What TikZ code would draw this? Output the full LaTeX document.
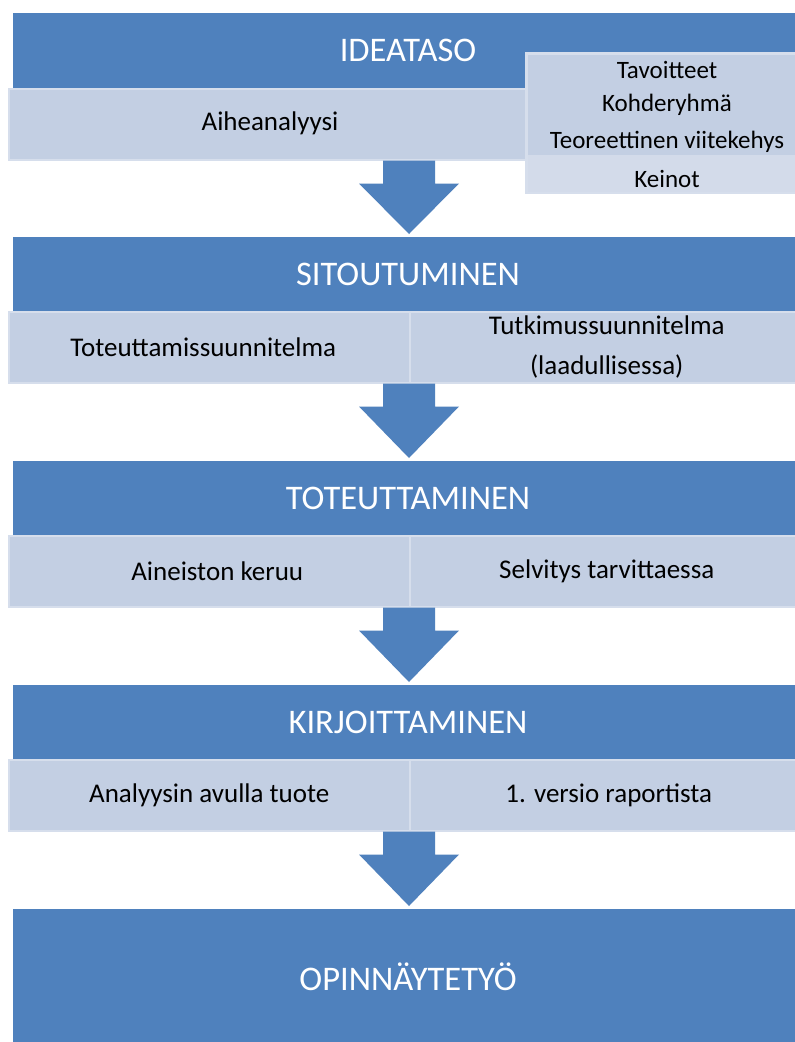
\documentclass[tikz,border=0pt]{standalone}
\usepackage{fontspec}
\setmainfont{Carlito}
\usetikzlibrary{calc}
\definecolor{hdr}{HTML}{4F81BD}
\definecolor{barfill}{HTML}{C3CFE3}
\definecolor{barline}{HTML}{D6DEEC}
\definecolor{keinfill}{HTML}{D3DBEA}
\begin{document}
\begin{tikzpicture}[x=1pt,y=-1pt,
  hdrbox/.style={fill=hdr, draw=none, inner sep=0pt, anchor=north west, minimum width=782pt},
  hdrtext/.style={text=white, font=\fontsize{34.5}{40}\selectfont, inner sep=0pt},
  barbox/.style={fill=barfill, draw=barline, line width=1.5pt, inner sep=0pt, anchor=north west,
    minimum height=71pt},
  bartext/.style={font=\fontsize{27}{40}\selectfont, text=black, align=center, inner sep=0pt},
  boxtext/.style={font=\fontsize{25}{30}\selectfont, text=black, inner sep=0pt},
  arrowfill/.style={fill=hdr, draw=none}
]
\useasboundingbox[fill=white] (0,0) rectangle (795,1042);

% ---- Section 1
\node[hdrbox, minimum height=75pt] (h1) at (13,13) {};
\node[hdrtext] (h1t) at (408,50) {IDEATASO};
\node[barbox, minimum width=787pt] (b1) at (8,88) {};
\node[bartext] (b1t) at (270,123) {Aiheanalyysi};
% right box
\node[fill=barline, draw=none, anchor=north west, minimum width=272pt, minimum height=142pt, inner sep=0pt] (r1) at (525,52) {};
\fill[barfill] ($(r1.north west)+(3pt,-3pt)$) rectangle ($(r1.north east)+(0pt,-103pt)$);
\fill[keinfill] ($(r1.north west)+(3pt,-103pt)$) rectangle ($(r1.south east)+(0pt,2pt)$);
\node[boxtext] (r1a) at (667,70) {Tavoitteet};
\node[boxtext] (r1b) at (667,105) {Kohderyhmä};
\node[boxtext] (r1c) at (667,142) {Teoreettinen viitekehys};
\node[boxtext] (r1d) at (667,179) {Keinot};

% ---- Section 2
\node[hdrbox, minimum height=74pt] (h2) at (13,237) {};
\node[hdrtext] (h2t) at (408,274) {SITOUTUMINEN};
\node[barbox, minimum width=401pt] (bl2) at (8,311) {};
\node[barbox, minimum width=386pt] (br2) at (409,311) {};
\node[bartext] (bl2t) at ([xshift=-6pt]bl2.center) {Toteuttamissuunnitelma};
\node[bartext] (br2t) at ([xshift=4pt]br2.center) {Tutkimussuunnitelma\\(laadullisessa)};

% ---- Section 3
\node[hdrbox, minimum height=74pt] (h3) at (13,461) {};
\node[hdrtext] (h3t) at (408,498) {TOTEUTTAMINEN};
\node[barbox, minimum width=401pt] (bl3) at (8,535) {};
\node[barbox, minimum width=386pt] (br3) at (409,535) {};
\node[bartext] (bl3t) at ([xshift=8pt]bl3.center) {Aineiston keruu};
\node[bartext] (br3t) at ([xshift=4pt]br3.center) {Selvitys tarvittaessa};

% ---- Section 4
\node[hdrbox, minimum height=74pt] (h4) at (13,685) {};
\node[hdrtext] (h4t) at (408,722) {KIRJOITTAMINEN};
\node[barbox, minimum width=401pt] (bl4) at (8,759) {};
\node[barbox, minimum width=386pt] (br4) at (409,759) {};
\node[bartext] (bl4t) at (bl4.center) {Analyysin avulla tuote};
\node[bartext] (br4t) at ([xshift=6pt]br4.center) {1. versio raportista};

% ---- Final
\node[hdrbox, minimum height=133pt] (h5) at (13,909) {};
\node[hdrtext] (h5t) at (408,977) {OPINNÄYTETYÖ};

% ---- Block arrows
\foreach \a/\b in {b1/h2, bl2/h3, bl3/h4, bl4/h5}{
  \fill[arrowfill] let \p1=(\a.south), \p2=(\b.north) in
    (383pt,\y1) -- (435pt,\y1) -- (435pt,\y1-23pt) -- (459pt,\y1-23pt)
    -- (409pt,\y2+3pt) -- (359pt,\y1-23pt) -- (383pt,\y1-23pt) -- cycle;
}
\end{tikzpicture}
\end{document}
